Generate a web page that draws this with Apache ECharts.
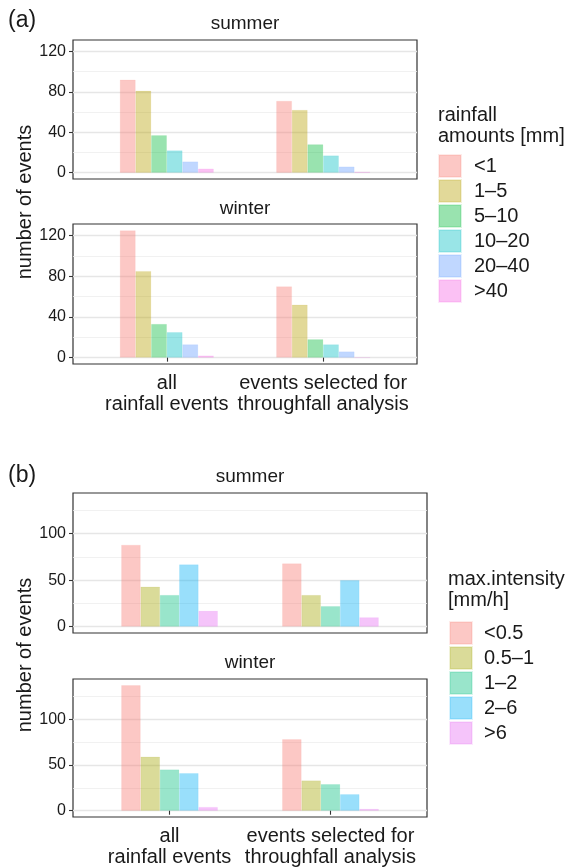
<!DOCTYPE html>
<html>
<head>
<meta charset="utf-8">
<script src="https://cdn.jsdelivr.net/npm/echarts@6/dist/echarts.min.js"></script>
<style>
  html, body { margin: 0; padding: 0; background: #fff; }
  #chart { width: 574px; height: 868px; }
</style>
</head>
<body>
<div id="chart"></div>
<script>
// groups on the x axis
var groupLabels = ['all\nrainfall events', 'events selected for\nthroughfall analysis'];

// (a) rainfall amounts
var amountCats = ['<1', '1\u20135', '5\u201310', '10\u201320', '20\u201340', '>40'];
var amountColors = ['#F8766D', '#B79F00', '#00BA38', '#00BFC4', '#619CFF', '#F564E3'];
var amountSummerAll = [92, 81, 37, 22, 11, 4];
var amountSummerSel = [71, 62, 28, 17, 6, 1];
var amountWinterAll = [125, 85, 33, 25, 13, 2];
var amountWinterSel = [70, 52, 18, 13, 6, 0];
var amountTicks = [0, 40, 80, 120];
var amountMinor = [20, 60, 100];

// (b) max intensity
var intCats = ['<0.5', '0.5\u20131', '1\u20132', '2\u20136', '>6'];
var intColors = ['#F8766D', '#A3A500', '#00BF7D', '#00B0F6', '#E76BF3'];
var intSummerAll = [88, 43, 34, 67, 17];
var intSummerSel = [68, 34, 22, 50, 10];
var intWinterAll = [137, 59, 45, 41, 4];
var intWinterSel = [78, 33, 29, 18, 2];
var intTicks = [0, 50, 100];
var intMinor = [25, 75, 125];

var FONT = "'Liberation Sans', Arial, sans-serif";
var TXT = '#1a1a1a';

function fade(hex, a) {
    var r = parseInt(hex.substr(1, 2), 16), g = parseInt(hex.substr(3, 2), 16), b = parseInt(hex.substr(5, 2), 16);
    return 'rgba(' + r + ',' + g + ',' + b + ',' + a + ')';
}

// panel boxes
var panels = [
    {left: 73, top: 40, width: 344, height: 139, yMin: -6.25, yMax: 131.25, ticks: amountTicks, minor: amountMinor, bottom: false},
    {left: 73, top: 224, width: 344, height: 140, yMin: -6.25, yMax: 131.25, ticks: amountTicks, minor: amountMinor, bottom: true},
    {left: 73, top: 493, width: 354, height: 140, yMin: -6.85, yMax: 143.85, ticks: intTicks, minor: intMinor, bottom: false},
    {left: 73, top: 679, width: 354, height: 139, yMin: -6.85, yMax: 143.85, ticks: intTicks, minor: intMinor, bottom: true}
];

var grid = [], xAxis = [], yAxis = [], yMinorAxis = [];
panels.forEach(function (p, i) {
    grid.push({
        left: p.left, top: p.top, width: p.width, height: p.height,
        show: true, borderColor: '#333', borderWidth: 1.2, backgroundColor: '#fff'
    });
    xAxis.push({
        type: 'value', gridIndex: i, min: 0.4, max: 2.6,
        axisLine: {show: false},
        splitLine: {show: false},
        axisTick: {show: p.bottom, customValues: [1, 2], length: 4, lineStyle: {color: '#333', width: 1.1}},
        axisLabel: {
            show: p.bottom, customValues: [1, 2], margin: 9,
            fontFamily: FONT, fontSize: 20, color: TXT, lineHeight: 21,
            formatter: function (v) { return groupLabels[Math.round(v) - 1]; }
        }
    });
    yAxis.push({
        type: 'value', gridIndex: i, min: p.yMin, max: p.yMax,
        axisLine: {show: false},
        axisTick: {show: true, customValues: p.ticks, length: 4, lineStyle: {color: '#333', width: 1.1}},
        axisLabel: {customValues: p.ticks, margin: 7, fontFamily: FONT, fontSize: 16, color: TXT},
        splitLine: {show: true, lineStyle: {color: '#e6e6e6', width: 1.4}}
    });
    yMinorAxis.push({
        type: 'value', gridIndex: i, min: p.yMin, max: p.yMax,
        axisLine: {show: false},
        axisTick: {show: false, customValues: p.minor},
        axisLabel: {show: false, customValues: p.minor},
        splitLine: {show: true, lineStyle: {color: '#eeeeee', width: 0.8}}
    });
});
yAxis = yAxis.concat(yMinorAxis);

var series = [];
function addBars(cats, colors, allVals, selVals, gi, width) {
    cats.forEach(function (c, k) {
        series.push({
            type: 'bar', name: c, xAxisIndex: gi, yAxisIndex: gi,
            barWidth: width, barGap: '0%',
            itemStyle: {color: fade(colors[k], 0.4), borderColor: fade(colors[k], 0.15), borderWidth: 0.6},
            data: [[1, allVals[k]], [2, selVals[k]]]
        });
    });
}
addBars(amountCats, amountColors, amountSummerAll, amountSummerSel, 0, '10%');
addBars(amountCats, amountColors, amountWinterAll, amountWinterSel, 1, '10%');
addBars(intCats, intColors, intSummerAll, intSummerSel, 2, '12%');
addBars(intCats, intColors, intWinterAll, intWinterSel, 3, '12%');

function strip(text, x, y) {
    return {text: text, left: x, top: y, textAlign: 'center', padding: 0,
        textStyle: {fontFamily: FONT, fontSize: 19, fontWeight: 'normal', color: TXT}};
}

var option = {
    animation: false,
    backgroundColor: '#fff',
    title: [
        {text: '(a)', left: 8, top: 9, padding: 0, textStyle: {fontFamily: FONT, fontSize: 23, fontWeight: 'normal', color: TXT}},
        {text: '(b)', left: 8, top: 464, padding: 0, textStyle: {fontFamily: FONT, fontSize: 23, fontWeight: 'normal', color: TXT}},
        strip('summer', 245, 14),
        strip('winter', 245, 199),
        strip('summer', 250, 467),
        strip('winter', 250, 653),
        {text: 'rainfall\namounts [mm]', left: 438, top: 105, padding: 0,
            textStyle: {fontFamily: FONT, fontSize: 20, fontWeight: 'normal', color: TXT, lineHeight: 21}},
        {text: 'max.intensity\n[mm/h]', left: 448, top: 569, padding: 0,
            textStyle: {fontFamily: FONT, fontSize: 20, fontWeight: 'normal', color: TXT, lineHeight: 21}}
    ],
    legend: [
        {
            data: amountCats, orient: 'vertical', left: 438, top: 154, padding: 0,
            itemWidth: 22, itemHeight: 22, itemGap: 1, icon: 'rect', selectedMode: false,
            textStyle: {fontFamily: FONT, fontSize: 20, color: TXT, lineHeight: 20, padding: [0, 0, 0, 8]}
        },
        {
            data: intCats, orient: 'vertical', left: 449, top: 621, padding: 0,
            itemWidth: 22, itemHeight: 22, itemGap: 1, icon: 'rect', selectedMode: false,
            textStyle: {fontFamily: FONT, fontSize: 20, color: TXT, lineHeight: 20, padding: [0, 0, 0, 7]}
        }
    ],
    graphic: [
        {type: 'text', x: 25, y: 202, rotation: Math.PI / 2,
            style: {text: 'number of events', font: '20px ' + FONT, fill: TXT, align: 'center', verticalAlign: 'middle'}},
        {type: 'text', x: 25, y: 655, rotation: Math.PI / 2,
            style: {text: 'number of events', font: '20px ' + FONT, fill: TXT, align: 'center', verticalAlign: 'middle'}}
    ],
    grid: grid,
    xAxis: xAxis,
    yAxis: yAxis,
    series: series
};

var chart = echarts.init(document.getElementById('chart'));
chart.setOption(option);
</script>
</body>
</html>
